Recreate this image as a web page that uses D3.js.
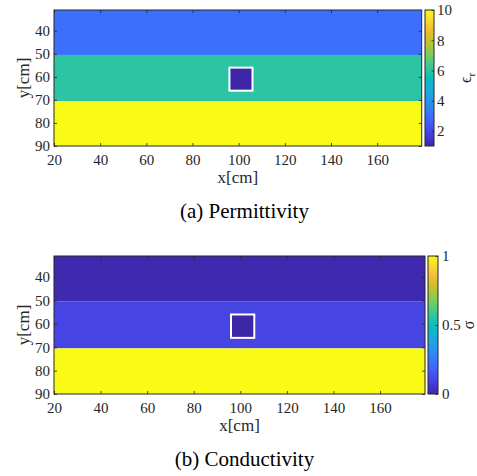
<!DOCTYPE html>
<html>
<head>
<meta charset="utf-8">
<script src="https://cdn.jsdelivr.net/npm/d3@7"></script>
<style>
  html, body { margin: 0; padding: 0; background: #fff; }
  svg { display: block; }
</style>
</head>
<body>
<svg id="fig" width="477" height="476"></svg>
<script>
// ---- model: horizontally layered ground with a small rectangular void ----
const xTicks = [20, 40, 60, 80, 100, 120, 140, 160];
const yTicks = [40, 50, 60, 70, 80, 90];
const xDomain = [20, 179.3];          // cm
const yDomain = [31, 90];             // cm (depth, increasing downwards)
const layerTops = [31, 50.5, 70.5];   // cm
const layerBottoms = [50.5, 70.5, 90];
const permittivity = [3, 6, 10];      // relative permittivity per layer
const conductivity = [0.01, 0.1, 1];  // conductivity per layer
const voidX = [96, 106];              // cm
const voidY = [56, 66];               // cm
const voidPermittivity = 1;
const voidConductivity = 0;
const epsTicks = [2, 4, 6, 8, 10];
const epsRange = [1, 10];
const sigmaTicks = [0, 0.5, 1];
const sigmaRange = [0, 1];

// parula colormap control points
const parulaStops = [
  [0.2422, 0.1504, 0.6603], [0.2704, 0.2138, 0.8346], [0.2813, 0.2985, 0.9397],
  [0.2710, 0.3860, 0.9898], [0.2006, 0.4803, 0.9906], [0.1740, 0.5605, 0.9432],
  [0.1321, 0.6363, 0.8932], [0.0535, 0.7006, 0.8299], [0.0369, 0.7400, 0.7426],
  [0.1853, 0.7721, 0.6379], [0.3301, 0.8002, 0.4876], [0.5329, 0.7970, 0.3267],
  [0.7091, 0.7727, 0.1998], [0.8600, 0.7413, 0.1587], [0.9946, 0.7407, 0.2394],
  [0.9634, 0.8778, 0.1582], [0.9769, 0.9839, 0.0805]
].map(c => d3.rgb(c[0] * 255, c[1] * 255, c[2] * 255).formatHex());
const parula = d3.interpolateRgbBasis(parulaStops);

const serif = '"Liberation Serif", "Times New Roman", Times, serif';
const axisColor = "#262626";
const svg = d3.select("#fig");

const panels = [
  {
    plot: { x0: 54, x1: 421.7, y0: 10, y1: 146 },
    bar: { x0: 425, x1: 434 },
    values: permittivity, voidValue: voidPermittivity,
    range: epsRange, cTicks: epsTicks, cFormat: d3.format("d"), cPad: 3,
    cLabel: ["\u03F5", "r"], caption: "(a) Permittivity",
    xLabelY: 183, captionY: 217.5, id: "a"
  },
  {
    plot: { x0: 54, x1: 425, y0: 256, y1: 394 },
    bar: { x0: 428, x1: 438 },
    values: conductivity, voidValue: voidConductivity,
    range: sigmaRange, cTicks: sigmaTicks, cFormat: d => String(d), cPad: 4,
    cLabel: ["\u03C3"], caption: "(b) Conductivity",
    xLabelY: 431, captionY: 465.5, id: "b"
  }
];

panels.forEach(p => {
  const x = d3.scaleLinear().domain(xDomain).range([p.plot.x0, p.plot.x1]);
  const y = d3.scaleLinear().domain(yDomain).range([p.plot.y0, p.plot.y1]);
  const c = d3.scaleSequential(parula).domain(p.range);
  const g = svg.append("g");

  // layers
  g.selectAll("rect.layer")
    .data(p.values)
    .join("rect")
    .attr("class", "layer")
    .attr("x", x(xDomain[0]))
    .attr("width", x(xDomain[1]) - x(xDomain[0]))
    .attr("y", (d, i) => y(layerTops[i]))
    .attr("height", (d, i) => y(layerBottoms[i]) - y(layerTops[i]))
    .attr("fill", d => c(d));

  // void with white outline
  g.append("rect")
    .attr("x", x(voidX[0]))
    .attr("y", y(voidY[0]))
    .attr("width", x(voidX[1]) - x(voidX[0]))
    .attr("height", y(voidY[1]) - y(voidY[0]))
    .attr("fill", c(p.voidValue))
    .attr("stroke", "#ffffff")
    .attr("stroke-width", 2);

  // axes with inward ticks
  const tickStyle = sel => {
    sel.select(".domain").remove();
    sel.selectAll(".tick line").attr("stroke", axisColor).attr("stroke-width", 0.8);
    sel.selectAll(".tick text").attr("fill", axisColor)
      .style("font-family", serif).style("font-size", "15px");
  };
  g.append("g").attr("transform", `translate(0,${p.plot.y1})`)
    .call(d3.axisBottom(x).tickValues(xTicks).tickSize(-3).tickPadding(8.5))
    .call(tickStyle);
  g.append("g").attr("transform", `translate(0,${p.plot.y0})`)
    .call(d3.axisTop(x).tickValues(xTicks).tickSize(-3).tickFormat(""))
    .call(tickStyle);
  g.append("g").attr("transform", `translate(${p.plot.x0},0)`)
    .call(d3.axisLeft(y).tickValues(yTicks).tickSize(-3).tickPadding(4))
    .call(tickStyle);
  g.append("g").attr("transform", `translate(${p.plot.x1},0)`)
    .call(d3.axisRight(y).tickValues(yTicks).tickSize(-3).tickFormat(""))
    .call(tickStyle);

  g.append("rect")
    .attr("x", p.plot.x0).attr("y", p.plot.y0)
    .attr("width", p.plot.x1 - p.plot.x0).attr("height", p.plot.y1 - p.plot.y0)
    .attr("fill", "none").attr("stroke", axisColor).attr("stroke-width", 1);

  // axis labels
  g.append("text")
    .attr("x", (p.plot.x0 + p.plot.x1) / 2).attr("y", p.xLabelY)
    .attr("text-anchor", "middle").attr("fill", axisColor)
    .style("font-family", serif).style("font-size", "17px").text("x[cm]");
  g.append("text")
    .attr("transform", `translate(29,${(p.plot.y0 + p.plot.y1) / 2}) rotate(-90)`)
    .attr("text-anchor", "middle").attr("fill", axisColor)
    .style("font-family", serif).style("font-size", "17px").text("y[cm]");

  // colorbar
  const grad = svg.append("defs").append("linearGradient")
    .attr("id", "grad-" + p.id)
    .attr("x1", 0).attr("y1", 1).attr("x2", 0).attr("y2", 0);
  d3.range(0, 1.0001, 1 / 32).forEach(t => {
    grad.append("stop").attr("offset", t).attr("stop-color", parula(t));
  });
  const cy = d3.scaleLinear().domain(p.range).range([p.plot.y1, p.plot.y0]);
  g.append("rect")
    .attr("x", p.bar.x0).attr("y", p.plot.y0)
    .attr("width", p.bar.x1 - p.bar.x0).attr("height", p.plot.y1 - p.plot.y0)
    .attr("fill", `url(#grad-${p.id})`)
    .attr("stroke", axisColor).attr("stroke-width", 1);
  g.append("g").attr("transform", `translate(${p.bar.x1},0)`)
    .call(d3.axisRight(cy).tickValues(p.cTicks).tickFormat(p.cFormat).tickSize(-2.5).tickPadding(p.cPad))
    .call(tickStyle);

  const lbl = g.append("text")
    .attr("transform", `translate(${p.id === "a" ? 471 : 474},${(p.plot.y0 + p.plot.y1) / 2}) rotate(-90)`)
    .attr("text-anchor", "middle").attr("fill", axisColor)
    .style("font-family", serif).style("font-size", "16px");
  lbl.append("tspan").text(p.cLabel[0]);
  if (p.cLabel[1]) {
    lbl.append("tspan").attr("dy", 4).style("font-size", "11px").text(p.cLabel[1]);
  }

  // caption
  g.append("text")
    .attr("x", 244.5).attr("y", p.captionY)
    .attr("text-anchor", "middle").attr("fill", "#000")
    .style("font-family", serif).style("font-size", "21px").text(p.caption);
});
</script>
</body>
</html>
